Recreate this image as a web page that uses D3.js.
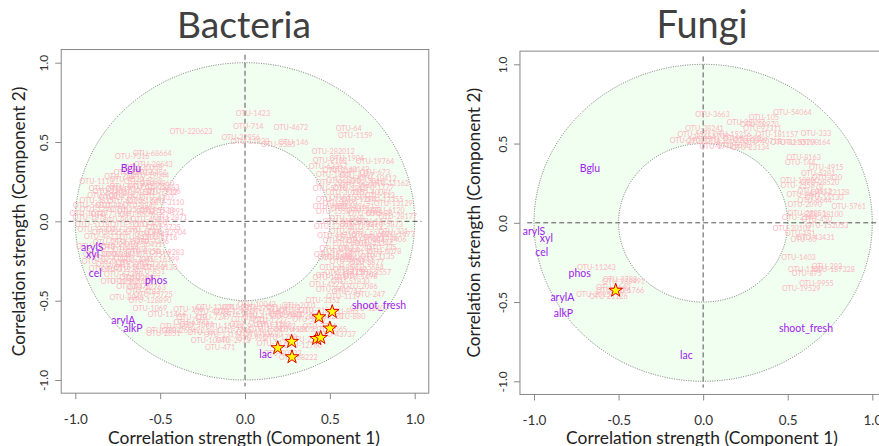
<!DOCTYPE html>
<html>
<head>
<meta charset="utf-8">
<script src="https://cdn.jsdelivr.net/npm/d3@7"></script>
<style>
  body { margin: 0; background: #fff; }
  svg { display: block; font-family: Lato, "Open Sans", sans-serif; }
</style>
</head>
<body>
<svg id="chart" width="879" height="446"></svg>
<script>
// ---- data: [label, component 1, component 2] ----
const tickValues = [-1, -0.5, 0, 0.5, 1];

const bacteriaOtu = [
  ['OTU-1423', 0.047, 0.682], ['OTU-714', 0.02, 0.6], ['OTU-4672', 0.271, 0.594],
  ['OTU-220623', -0.318, 0.569], ['OTU-64', 0.611, 0.588], ['OTU-1159', 0.65, 0.542],
  ['OTU-32956', -0.025, 0.529], ['OTU-11930', 0.03, 0.506], ['OTU-146', 0.285, 0.495],
  ['OTU-5585', 0.196, 0.485], ['OTU-282012', 0.52, 0.443], ['OTU-68664', -0.546, 0.428],
  ['OTU-7316', -0.664, 0.407], ['OTU-19764', 0.766, 0.378], ['OTU-1904', 0.6, 0.397],
  ['OTU-2188', 0.5, 0.384],
  // left group
  ['OTU-28643', -0.54, 0.359], ['OTU-30068', -0.6, 0.338], ['OTU-6451', -0.56, 0.31],
  ['OTU-1113', -0.874, 0.252], ['OTU-4520', -0.697, 0.265], ['OTU-13882', -0.6, 0.254],
  ['OTU-9960', -0.52, 0.237], ['OTU-4417', -0.697, 0.222], ['OTU-28883', -0.5, 0.216],
  ['OTU-2206', -0.796, 0.185], ['OTU-1582', -0.63, 0.18], ['OTU-7712', -0.5, 0.18],
  ['OTU-3815', -0.874, 0.132], ['OTU-60216', -0.697, 0.128], ['OTU-4107', -0.52, 0.149],
  ['OTU-3110', -0.46, 0.117], ['OTU-8842', -0.62, 0.1], ['OTU-1290', -0.874, 0.075],
  ['OTU-25519', -0.677, 0.075], ['OTU-5530', -0.52, 0.07], ['OTU-10127', -0.92, 0.05],
  ['OTU-2871', -0.44, 0.027], ['OTU-73124', -0.796, 0.044], ['OTU-6609', -0.638, 0.044],
  ['OTU-1871', -0.913, 0.023], ['OTU-40213', -0.56, 0.01], ['OTU-991', -0.75, 0.005],
  ['OTU-3735', -0.48, -0.04], ['OTU-15802', -0.874, -0.05], ['OTU-2290', -0.717, -0.05],
  ['OTU-6734', -0.6, -0.061], ['OTU-48231', -0.835, -0.093], ['OTU-1716', -0.5, -0.103],
  ['OTU-8120', -0.64, -0.1], ['OTU-2564', -0.796, -0.135], ['OTU-30411', -0.6, -0.145],
  ['OTU-12231', -0.737, -0.166], ['OTU-9283', -0.46, -0.198], ['OTU-338', -0.757, -0.208],
  ['OTU-5904', -0.678, -0.176], ['OTU-41120', -0.776, -0.233], ['OTU-7045', -0.638, -0.24],
  ['OTU-16399', -0.5, -0.24], ['OTU-2215', -0.776, -0.274], ['OTU-3302', -0.56, -0.271],
  ['OTU-31931', -0.737, -0.302], ['OTU-851', -0.56, -0.313], ['OTU-67395', -0.717, -0.334],
  ['OTU-1188', -0.638, -0.355], ['OTU-20562', -0.737, -0.376], ['OTU-22763', -0.58, -0.418],
  ['OTU-4476', -0.658, -0.408], ['OTU-3620', -0.86, -0.255], ['OTU-11548', -0.88, -0.16],
  ['OTU-5118', -0.9, -0.02], ['OTU-29044', -0.56, 0.29], ['OTU-744', -0.74, 0.28],
  ['OTU-1736', -0.72, 0.2], ['OTU-62005', -0.58, 0.22], ['OTU-2470', -0.7, 0.16],
  ['OTU-13391', -0.58, 0.13], ['OTU-8867', -0.78, 0.1], ['OTU-4029', -0.56, -0.02],
  ['OTU-52113', -0.68, -0.02], ['OTU-1643', -0.55, -0.08], ['OTU-7206', -0.55, -0.13],
  ['OTU-35880', -0.68, -0.13], ['OTU-2950', -0.6, -0.19], ['OTU-14402', -0.66, -0.29],
  ['OTU-6617', -0.82, -0.3], ['OTU-1077', -0.6, -0.36], ['OTU-2731', -0.82, 0.21],
  ['OTU-18012', -0.66, 0.31], ['OTU-5066', -0.48, 0.19], ['OTU-908', -0.84, 0.16],
  ['OTU-47712', -0.64, 0.06], ['OTU-3991', -0.46, 0.06], ['OTU-1356', -0.8, -0.07],
  ['OTU-22904', -0.46, -0.07], ['OTU-6843', -0.72, -0.21], ['OTU-1519', -0.54, -0.21],
  ['OTU-37720', -0.84, -0.21], ['OTU-2402', -0.66, -0.26], ['OTU-8130', -0.5, -0.29],
  ['OTU-10566', -0.68, -0.38], ['OTU-4183', -0.6, -0.44], ['OTU-2937', -0.76, 0.15],
  ['OTU-56021', -0.9, 0.1],
  // bottom group
  ['OTU-95725', -0.54, -0.464], ['OTU-8868', -0.697, -0.481], ['OTU-128890', -0.56, -0.502],
  ['OTU-1069', -0.56, -0.548], ['OTU-196', -0.334, -0.555], ['OTU-11466', -0.46, -0.59],
  ['OTU-429', -0.314, -0.603], ['OTU-7247', -0.187, -0.607], ['OTU-13004', -0.177, -0.54],
  ['OTU-4420', -0.2, -0.57], ['OTU-1681', -0.285, -0.649], ['OTU-265422', -0.364, -0.687],
  ['OTU-2633', -0.481, -0.687], ['OTU-2651', -0.481, -0.71], ['OTU-15541', -0.118, -0.66],
  ['OTU-13197', -0.128, -0.716], ['OTU-10940', -0.206, -0.75], ['OTU-2913', -0.069, -0.754],
  ['OTU-471', -0.147, -0.796], ['OTU-300', -0.25, -0.7], ['OTU-3376', -0.03, -0.54],
  ['OTU-27811', 0.088, -0.548], ['OTU-5502', 0.226, -0.544], ['OTU-1830', -0.03, -0.586],
  ['OTU-41170', 0.1, -0.6], ['OTU-9021', 0.24, -0.586], ['OTU-6412', 0.01, -0.649],
  ['OTU-1203', 0.17, -0.649], ['OTU-1101', 0.05, -0.702], ['OTU-15502', 0.187, -0.66],
  ['OTU-13680', 0.108, -0.712], ['OTU-4551', 0.27, -0.68], ['OTU-8801', 0.305, -0.68],
  ['OTU-1790', 0.206, -0.733], ['OTU-2283', 0.364, -0.744], ['OTU-68222', 0.314, -0.86],
  ['OTU-43737', 0.54, -0.712], ['OTU-1237', 0.147, -0.628], ['OTU-6630', 0.25, -0.59],
  ['OTU-3184', 0.42, -0.565], ['OTU-10042', 0.069, -0.523], ['OTU-5917', 0.38, -0.62],
  ['OTU-2001', 0.32, -0.53], ['OTU-7741', 0.44, -0.66], ['OTU-865', 0.58, -0.57],
  ['OTU-1240', 0.72, -0.55], ['OTU-3352', 0.46, -0.502], ['OTU-1117', 0.58, -0.475],
  ['OTU-247', 0.737, -0.463], ['OTU-747', 0.6, -0.444], ['OTU-1120', 0.17, -0.77],
  ['OTU-90733', 0.22, -0.83], ['OTU-1299', -0.08, -0.57], ['OTU-4721', 0.02, -0.62],
  ['OTU-31605', 0.14, -0.57], ['OTU-2210', 0.3, -0.56], ['OTU-7735', -0.06, -0.69],
  ['OTU-1644', 0.12, -0.68], ['OTU-20351', 0.36, -0.6], ['OTU-5273', 0.48, -0.6],
  ['OTU-993', 0.04, -0.74], ['OTU-6190', -0.32, -0.64], ['OTU-1847', -0.4, -0.66],
  ['OTU-12760', 0.34, -0.78], ['OTU-3065', 0.5, -0.68], ['OTU-880', 0.62, -0.6],
  // right group
  ['OTU-63357', 0.49, 0.344], ['OTU-60142', 0.619, 0.327], ['OTU-673', 0.766, 0.306],
  ['OTU-1883', 0.52, 0.296], ['OTU-4407', 0.66, 0.29], ['OTU-11162', 0.854, 0.239],
  ['OTU-2058', 0.52, 0.243], ['OTU-19377', 0.67, 0.225], ['OTU-5016', 0.5, 0.208],
  ['OTU-1777', 0.776, 0.212], ['OTU-30265', 0.59, 0.18], ['OTU-113', 0.795, 0.16],
  ['OTU-7250', 0.52, 0.135], ['OTU-1284', 0.67, 0.135], ['OTU-13129', 0.874, 0.111],
  ['OTU-4003', 0.5, 0.095], ['OTU-22671', 0.65, 0.095], ['OTU-1558', 0.52, 0.06],
  ['OTU-6045', 0.71, 0.05], ['OTU-88', 0.79, 0.05], ['OTU-3468', 0.6, 0.02],
  ['OTU-12093', 0.52, -0.03], ['OTU-2553', 0.71, -0.04], ['OTU-9183', 0.6, -0.063],
  ['OTU-331', 0.874, -0.061], ['OTU-44710', 0.54, -0.087], ['OTU-1526', 0.8, -0.1],
  ['OTU-3406', 0.85, -0.115], ['OTU-7319', 0.56, -0.12], ['OTU-20984', 0.71, -0.12],
  ['OTU-335', 0.805, -0.166], ['OTU-1052', 0.54, -0.17], ['OTU-6281', 0.65, -0.17],
  ['OTU-15367', 0.52, -0.21], ['OTU-2677', 0.71, -0.21], ['OTU-8877', 0.717, -0.261],
  ['OTU-3140', 0.53, -0.23], ['OTU-1942', 0.619, -0.303], ['OTU-5684', 0.717, -0.29],
  ['OTU-26513', 0.53, -0.34], ['OTU-1498', 0.68, -0.35], ['OTU-4225', 0.48, -0.397],
  ['OTU-51830', 0.62, -0.38], ['OTU-9044', 0.56, -0.229], ['OTU-2635', 0.54, -0.292],
  ['OTU-1311', 0.5, -0.355], ['OTU-7702', 0.678, -0.334], ['OTU-10412', 0.78, 0.27],
  ['OTU-3380', 0.58, 0.26], ['OTU-2812', 0.62, 0.21], ['OTU-40081', 0.75, 0.18],
  ['OTU-1560', 0.6, 0.15], ['OTU-6120', 0.84, 0.07], ['OTU-33315', 0.62, 0.08],
  ['OTU-1475', 0.76, 0.0], ['OTU-5873', 0.83, -0.02], ['OTU-1909', 0.64, -0.1],
  ['OTU-23344', 0.76, -0.14], ['OTU-4806', 0.62, -0.14], ['OTU-1135', 0.78, -0.22],
  ['OTU-9650', 0.6, -0.25], ['OTU-2144', 0.56, 0.32], ['OTU-7016', 0.72, 0.25],
  ['OTU-13355', 0.82, 0.14], ['OTU-4890', 0.56, 0.11], ['OTU-1022', 0.7, 0.07],
  ['OTU-28177', 0.9, 0.03], ['OTU-3615', 0.56, 0.0], ['OTU-9981', 0.66, -0.02],
  ['OTU-1477', 0.9, -0.08], ['OTU-50662', 0.74, -0.08], ['OTU-2399', 0.58, -0.19],
  ['OTU-6078', 0.82, -0.19], ['OTU-1841', 0.66, -0.24], ['OTU-11725', 0.58, -0.32],
  ['OTU-3557', 0.76, -0.32], ['OTU-8412', 0.52, -0.43], ['OTU-2086', 0.68, -0.41]
];

const bacteriaVars = [
  ['Bglu', -0.672, 0.336], ['arylS', -0.9, -0.16], ['xyl', -0.898, -0.208],
  ['cel', -0.882, -0.324], ['phos', -0.524, -0.372], ['arylA', -0.717, -0.624],
  ['alkP', -0.66, -0.672], ['lac', 0.122, -0.838], ['shoot_fresh', 0.79, -0.53]
];

const bacteriaStars = [
  [0.514, -0.57], [0.436, -0.603], [0.5, -0.674], [0.422, -0.74],
  [0.446, -0.733], [0.275, -0.758], [0.193, -0.798], [0.277, -0.855]
];

const fungiOtu = [
  ['OTU-3663', 0.055, 0.685], ['OTU-105', 0.359, 0.666], ['OTU-54064', 0.528, 0.698],
  ['OTU-28097', 0.253, 0.631], ['OTU-29970', 0.333, 0.618], ['OTU-38241', 0.008, 0.597],
  ['OTU-92311', 0.351, 0.593], ['OTU-181157', 0.436, 0.557], ['OTU-333', 0.667, 0.561],
  ['OTU-164', 0.663, 0.509], ['OTU-15216', 0.17, 0.557], ['OTU-1521', -0.05, 0.557],
  ['OTU-4709', 0.05, 0.545], ['OTU-12213', 0.23, 0.535], ['OTU-2901', -0.096, 0.52],
  ['OTU-7738', 0.0, 0.51], ['OTU-16622', 0.12, 0.52], ['OTU-3399', 0.28, 0.52],
  ['OTU-40718', 0.35, 0.51], ['OTU-8210', 0.5, 0.508], ['OTU-55290', 0.57, 0.508],
  ['OTU-1772', 0.08, 0.48], ['OTU-23134', 0.278, 0.473], ['OTU-6006', 0.18, 0.49],
  ['OTU-8163', 0.594, 0.414], ['OTU-144', 0.574, 0.382], ['OTU-4915', 0.728, 0.351],
  ['OTU-5281', 0.68, 0.313], ['OTU-420', 0.732, 0.288], ['OTU-28520', 0.69, 0.255],
  ['OTU-235876', 0.584, 0.238], ['OTU-10090', 0.57, 0.27], ['OTU-22128', 0.751, 0.193],
  ['OTU-2812', 0.66, 0.195], ['OTU-4401', 0.594, 0.179], ['OTU-11130', 0.716, 0.158],
  ['OTU-6644', 0.66, 0.14], ['OTU-2090', 0.6, 0.118], ['OTU-5761', 0.86, 0.103],
  ['OTU-28851', 0.613, 0.061], ['OTU-38100', 0.712, 0.05], ['OTU-450', 0.673, 0.021],
  ['OTU-2244', 0.568, 0.035], ['OTU-152053', 0.732, -0.017], ['OTU-20102', 0.525, -0.038],
  ['OTU-181', 0.574, -0.065], ['OTU-43431', 0.663, -0.095], ['OTU-60', 0.594, -0.107],
  ['OTU-1403', 0.564, -0.217], ['OTU-292', 0.732, -0.276], ['OTU-187328', 0.771, -0.297],
  ['OTU-1100', 0.604, -0.297], ['OTU-875', 0.613, -0.318], ['OTU-9955', 0.67, -0.381],
  ['OTU-19529', 0.58, -0.416], ['OTU-11243', -0.631, -0.284], ['OTU-3788', -0.491, -0.356],
  ['OTU-188491', -0.47, -0.373], ['OTU-2640', -0.531, -0.406], ['OTU-1766', -0.45, -0.427],
  ['OTU-7026', -0.53, -0.43], ['OTU-2095', -0.649, -0.454], ['OTU-21126', -0.56, -0.465]
];

const fungiVars = [
  ['Bglu', -0.669, 0.344], ['arylS', -1.0, -0.049], ['xyl', -0.927, -0.095],
  ['cel', -0.954, -0.187], ['phos', -0.73, -0.318], ['arylA', -0.832, -0.471],
  ['alkP', -0.826, -0.57], ['shoot_fresh', 0.608, -0.663], ['lac', -0.099, -0.833]
];

const fungiStars = [[-0.517, -0.427]];

// ---- layout ----
const panels = [
  { title: 'Bacteria', otu: bacteriaOtu, vars: bacteriaVars, stars: bacteriaStars,
    xRange: [75.3, 414.7], yRange: [380, 62.7], titleX: 244, titleW: 134, yTitleX: 18.3 },
  { title: 'Fungi', otu: fungiOtu, vars: fungiVars, stars: fungiStars,
    xRange: [534, 872.3], yRange: [381.3, 64.3], titleX: 702, titleW: 91, yTitleX: 473.3 }
];

const svg = d3.select('#chart');
const lim = 1.083; // R's 4% axis padding
const fmt = d => d.toFixed(1);

// scale the font so the text spans a given width
function fitWidth(text, width) {
  const len = text.node().getComputedTextLength();
  text.attr('font-size', parseFloat(text.attr('font-size')) * width / len);
}

// ring between two ellipses (data circles, scales differ slightly)
function ringPath(x, y, r0, r1) {
  const cx = x(0), cy = y(0);
  let d = '';
  [r1, r0].forEach(r => {
    const rx = x(r) - cx, ry = cy - y(r);
    d += `M${cx + rx},${cy}A${rx},${ry} 0 1 0 ${cx - rx},${cy}A${rx},${ry} 0 1 0 ${cx + rx},${cy}Z`;
  });
  return d;
}

panels.forEach(p => {
  const x = d3.scaleLinear().domain([-1, 1]).range(p.xRange);
  const y = d3.scaleLinear().domain([-1, 1]).range(p.yRange);
  const g = svg.append('g');

  // title
  const title = g.append('text')
    .attr('x', p.titleX).attr('y', 38)
    .attr('text-anchor', 'middle')
    .attr('font-size', 34).attr('fill', '#404040')
    .text(p.title);
  fitWidth(title, p.titleW);

  // green ring and dotted circles
  g.append('path')
    .attr('d', ringPath(x, y, 0.5, 1))
    .attr('fill', '#f0fff0')
    .attr('fill-rule', 'evenodd');
  [0.5, 1].forEach(r => {
    g.append('ellipse')
      .attr('cx', x(0)).attr('cy', y(0))
      .attr('rx', x(r) - x(0)).attr('ry', y(0) - y(r))
      .attr('fill', 'none').attr('stroke', '#555')
      .attr('stroke-width', 0.8).attr('stroke-dasharray', '1,1.4');
  });

  // dashed cross through the origin
  g.append('line')
    .attr('x1', x(-1.04)).attr('x2', x(1.04)).attr('y1', y(0)).attr('y2', y(0));
  g.append('line')
    .attr('x1', x(0)).attr('x2', x(0)).attr('y1', y(1.05)).attr('y2', y(-1.04));
  g.selectAll('line')
    .attr('stroke', '#555').attr('stroke-width', 1).attr('stroke-dasharray', '5,3');

  // OTU labels
  g.append('g')
    .selectAll('text')
    .data(p.otu)
    .join('text')
    .attr('x', d => x(d[1])).attr('y', d => y(d[2]))
    .attr('text-anchor', 'middle').attr('dominant-baseline', 'central')
    .attr('font-size', 7.2).attr('fill', '#ffb6c1')
    .text(d => d[0]);

  // soil / plant variables
  g.append('g')
    .selectAll('text')
    .data(p.vars)
    .join('text')
    .attr('x', d => x(d[1])).attr('y', d => y(d[2]))
    .attr('text-anchor', 'middle').attr('dominant-baseline', 'central')
    .attr('font-size', 10.5).attr('fill', '#a020f0')
    .text(d => d[0]);

  // highlighted OTUs
  g.append('g')
    .selectAll('path')
    .data(p.stars)
    .join('path')
    .attr('transform', d => `translate(${x(d[0])},${y(d[1])})`)
    .attr('d', d3.symbol(d3.symbolStar, 58))
    .attr('fill', '#ffff00').attr('stroke', '#e00000').attr('stroke-width', 1);

  // box
  g.append('rect')
    .attr('x', x(-lim)).attr('y', y(lim))
    .attr('width', x(lim) - x(-lim)).attr('height', y(-lim) - y(lim))
    .attr('fill', 'none').attr('stroke', '#888');

  // axes
  const xAxis = g.append('g')
    .attr('transform', `translate(0,${y(-lim)})`)
    .call(d3.axisBottom(x).tickValues(tickValues).tickSize(6).tickFormat(fmt));
  xAxis.selectAll('text')
    .attr('y', 26).attr('dy', null).attr('dominant-baseline', 'central')
    .attr('font-size', 13.5).attr('fill', '#333').attr('font-family', null);

  const yAxis = g.append('g')
    .attr('transform', `translate(${x(-lim)},0)`)
    .call(d3.axisLeft(y).tickValues(tickValues).tickSize(6).tickFormat(fmt));
  yAxis.selectAll('text')
    .attr('x', null).attr('dy', null)
    .attr('transform', 'translate(-17.5,0) rotate(-90)')
    .attr('text-anchor', 'middle').attr('dominant-baseline', 'central')
    .attr('font-size', 12).attr('fill', '#333').attr('font-family', null);

  [xAxis, yAxis].forEach(a => {
    a.select('.domain').remove();
    a.selectAll('line').attr('stroke', '#888');
    a.attr('font-family', null);
  });

  // axis titles
  const xt = g.append('text')
    .attr('x', p.titleX).attr('y', 437)
    .attr('text-anchor', 'middle').attr('dominant-baseline', 'central')
    .attr('font-size', 16).attr('fill', '#222')
    .text('Correlation strength (Component 1)');
  fitWidth(xt, 272);

  const yt = g.append('text')
    .attr('transform', `translate(${p.yTitleX},${y(0)}) rotate(-90)`)
    .attr('text-anchor', 'middle').attr('dominant-baseline', 'central')
    .attr('font-size', 16).attr('fill', '#222')
    .text('Correlation strength (Component 2)');
  fitWidth(yt, 270);
});
</script>
</body>
</html>
